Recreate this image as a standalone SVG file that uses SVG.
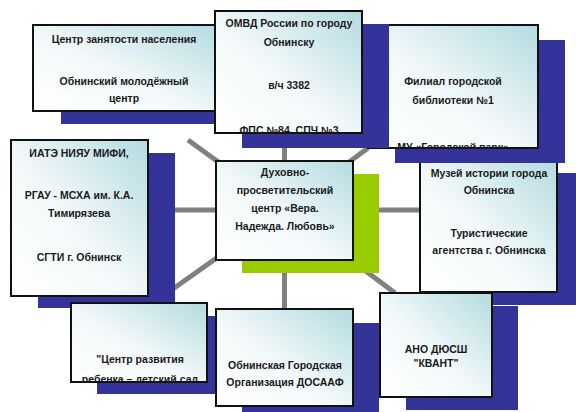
<svg xmlns="http://www.w3.org/2000/svg" width="576" height="412" viewBox="0 0 576 412">
<defs>
<linearGradient id="fill" x1="1" y1="0" x2="0" y2="1">
<stop offset="0" stop-color="#b3dbe0"/>
<stop offset="0.55" stop-color="#f3f9fa"/>
<stop offset="1" stop-color="#ffffff"/>
</linearGradient>
<clipPath id="c2"><rect x="215" y="11" width="147" height="122"/></clipPath>
<clipPath id="c3"><rect x="368" y="25" width="170" height="123"/></clipPath>
<clipPath id="c7"><rect x="71" y="303" width="136" height="79"/></clipPath>
</defs>
<style>
.box{fill:url(#fill);stroke:#111;stroke-width:2}
.sh{fill:#333399}
.gr{fill:#99cc00}
.conn{stroke:#808080;stroke-width:5;fill:none}
text{font-family:"Liberation Sans",Arial,sans-serif;font-weight:bold;font-size:10.5px;fill:#1a1a1a;text-anchor:middle}
</style>
<rect width="576" height="412" fill="#ffffff"/>
<g id="connectors">
<line class="conn" x1="284.5" y1="133" x2="284.5" y2="210"/>
<line class="conn" x1="284.5" y1="210" x2="284.5" y2="309"/>
<line class="conn" x1="175" y1="210" x2="284.5" y2="210"/>
<line class="conn" x1="284.5" y1="210" x2="420" y2="210"/>
<line class="conn" x1="188" y1="140" x2="284.5" y2="210"/>
<line class="conn" x1="368" y1="148" x2="284.5" y2="210"/>
<line class="conn" x1="170" y1="291" x2="284.5" y2="210"/>
<line class="conn" x1="395" y1="293" x2="284.5" y2="210"/>
</g>
<g id="center">
<rect class="gr" x="242" y="174" width="137" height="99"/>
<rect class="box" x="216" y="161" width="137" height="99"/>
<text x="285" y="176">Духовно-</text>
<text x="285" y="194">просветительский</text>
<text x="285" y="212">центр «Вера.</text>
<text x="285" y="230">Надежда. Любовь»</text>
</g>
<g id="museum">
<rect class="sh" x="447" y="173" width="137" height="132"/>
<rect class="box" x="420" y="160" width="137" height="132"/>
<text x="489" y="177">Музей истории города</text>
<text x="489" y="194">Обнинска</text>
<text x="489" y="237">Туристические</text>
<text x="489" y="254">агентства г. Обнинска</text>
</g>
<g id="library">
<rect class="sh" x="395" y="40" width="170" height="123"/>
<rect class="box" x="368" y="25" width="170" height="123"/>
<g clip-path="url(#c3)">
<text x="453" y="85">Филиал городской</text>
<text x="453" y="104">библиотеки №1</text>
<text x="453" y="150.5">МУ «Городской парк»</text>
</g>
</g>
<g id="employment">
<rect class="sh" x="61" y="38" width="182" height="86"/>
<rect class="box" x="33" y="25" width="182" height="86"/>
<text x="124" y="43">Центр занятости населения</text>
<text x="124" y="85">Обнинский молодёжный</text>
<text x="124" y="102">центр</text>
</g>
<g id="omvd">
<rect class="sh" x="242" y="24" width="147" height="124"/>
<rect class="box" x="215" y="11" width="147" height="122"/>
<g clip-path="url(#c2)">
<text x="289" y="27">ОМВД России по городу</text>
<text x="289" y="46">Обнинску</text>
<text x="289" y="89">в/ч 3382</text>
<text x="289" y="133.5">ФПС №84, СПЧ №3</text>
</g>
</g>
<g id="universities">
<rect class="sh" x="38" y="153" width="137" height="155"/>
<rect class="box" x="11" y="140" width="137" height="156"/>
<text x="79" y="157">ИАТЭ НИЯУ МИФИ,</text>
<text x="79" y="199">РГАУ - МСХА им. К.А.</text>
<text x="79" y="217">Тимирязева</text>
<text x="79" y="261">СГТИ г. Обнинск</text>
</g>
<g id="kindergarten">
<rect class="sh" x="97" y="316" width="136" height="78"/>
<rect class="box" x="71" y="303" width="136" height="79"/>
<g clip-path="url(#c7)">
<text x="140" y="363">"Центр развития</text>
<text x="140" y="383">ребенка – детский сад</text>
</g>
</g>
<g id="dosaaf">
<rect class="sh" x="242" y="323" width="137" height="97"/>
<rect class="box" x="216" y="309" width="137" height="97"/>
<text x="285" y="369">Обнинская Городская</text>
<text x="285" y="386">Организация ДОСААФ</text>
</g>
<g id="kvant">
<rect class="sh" x="406" y="306" width="112" height="104"/>
<rect class="box" x="380" y="293" width="112" height="104"/>
<text x="436" y="353">АНО ДЮСШ</text>
<text x="436" y="367">"КВАНТ"</text>
</g>
</svg>
